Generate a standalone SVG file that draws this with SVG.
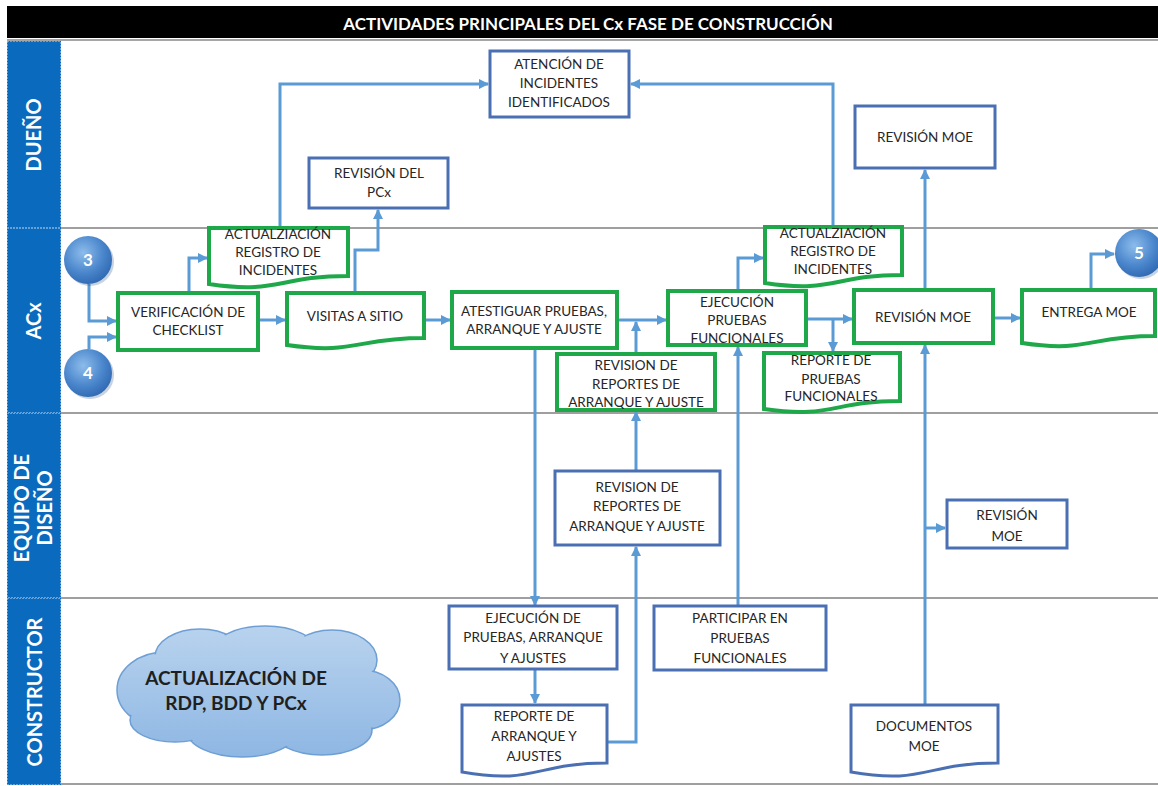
<svg xmlns="http://www.w3.org/2000/svg" width="1158" height="786" viewBox="0 0 1158 786">
<style>
.ln{stroke:#7F7F7F;stroke-width:1.5;fill:none}
.bx{fill:#fff;stroke:#4A70B3;stroke-width:3}
.gx{fill:#fff;stroke:#1FA84A;stroke-width:4}
.t{font-family:Lato,"Liberation Sans",sans-serif;font-size:13.5px;fill:#262626;text-anchor:middle}
.lbl{font-family:Lato,"Liberation Sans",sans-serif;font-weight:bold;font-size:20px;fill:#fff;text-anchor:middle}
.num{font-family:Lato,"Liberation Sans",sans-serif;font-weight:bold;font-size:17px;fill:#fff;text-anchor:middle}
.c{fill:none;stroke:#5B9BD5;stroke-width:3;marker-end:url(#ah)}
.cl{fill:url(#cg);stroke:#6E9FD4;stroke-width:1.5}
.cf{fill:url(#cg);stroke:none}
</style>
<defs>
<marker id="ah" markerUnits="userSpaceOnUse" markerWidth="10" markerHeight="10" refX="9" refY="5" orient="auto">
<path d="M0,0 L10,5 L0,10 z" fill="#5B9BD5"/>
</marker>
<radialGradient id="bg" cx="0.4" cy="0.35" r="0.7">
<stop offset="0" stop-color="#8DBCEB"/>
<stop offset="0.6" stop-color="#4A86CC"/>
<stop offset="1" stop-color="#2E67B0"/>
</radialGradient>
<linearGradient id="cg" gradientUnits="userSpaceOnUse" x1="0" y1="625" x2="0" y2="760">
<stop offset="0" stop-color="#B9D3EE"/>
<stop offset="1" stop-color="#8DB6E3"/>
</linearGradient>
</defs>
<rect width="1158" height="786" fill="#fff"/>
<!-- header -->
<g id="header">
<rect x="7" y="6" width="1151" height="32" fill="#000"/>
<text x="588" y="30" font-family="Lato,'Liberation Sans',sans-serif" font-weight="bold" font-size="17" fill="#fff" text-anchor="middle">ACTIVIDADES PRINCIPALES DEL Cx FASE DE CONSTRUCCIÓN</text>
<line x1="7" y1="40" x2="1158" y2="40" stroke="#A6A6A6" stroke-width="2"/>
</g>
<!-- lanes -->
<g id="lanes">
<rect x="7" y="41" width="54" height="744" fill="#0A6BBE"/>
<g stroke="#BFD9F2" stroke-width="1" stroke-dasharray="1,2" fill="none">
<rect x="7.5" y="41.5" width="53" height="186"/>
<rect x="7.5" y="228.5" width="53" height="184"/>
<rect x="7.5" y="413.5" width="53" height="184"/>
<rect x="7.5" y="598.5" width="53" height="186"/>
</g>
<line class="ln" x1="61" y1="228" x2="1158" y2="228"/>
<line class="ln" x1="61" y1="413" x2="1158" y2="413"/>
<line class="ln" x1="61" y1="598" x2="1158" y2="598"/>
<line class="ln" x1="61" y1="784" x2="1158" y2="784"/>
<text class="lbl" transform="translate(41,135) rotate(-90)">DUEÑO</text>
<text class="lbl" transform="translate(41,321) rotate(-90)">ACx</text>
<text class="lbl" transform="translate(29,508) rotate(-90)">EQUIPO DE</text>
<text class="lbl" transform="translate(52,508) rotate(-90)">DISEÑO</text>
<text class="lbl" transform="translate(42,692) rotate(-90)">CONSTRUCTOR</text>
</g>
<!-- connectors -->
<g id="connectors">
<path class="c" d="M280,228 V84 H488"/>
<path class="c" d="M833,227 V84 H631"/>
<path class="c" d="M355,292 V250 H378 V210"/>
<path class="c" d="M189,293 V258 H207"/>
<path class="c" d="M89,284 V321 H116"/>
<path class="c" d="M89,349 V337 H116"/>
<path class="c" d="M258,320 H285"/>
<path class="c" d="M424,320 H450"/>
<path class="c" d="M617,320 H666"/>
<path class="c" d="M636,354 V322"/>
<path class="c" d="M535,348 V605"/>
<path class="c" d="M636,471 V412"/>
<path class="c" d="M607,742 H636 V547"/>
<path class="c" d="M535,669 V703"/>
<path class="c" d="M738,606 V347"/>
<path class="c" d="M806,319 H852"/>
<path class="c" d="M833,319 V351"/>
<path class="c" d="M738,290 V258 H763"/>
<path class="c" d="M925,290 V170"/>
<path class="c" d="M925,705 V345"/>
<path class="c" d="M925,528 H945"/>
<path class="c" d="M993,318 H1020"/>
<path class="c" d="M1091,290 V254 H1114"/>
</g>
<!-- Dueño -->
<g id="atencion"><rect class="bx" x="490" y="51" width="139" height="66"/>
<text class="t" x="559" y="69">ATENCIÓN DE</text><text class="t" x="559" y="88">INCIDENTES</text><text class="t" x="559" y="107">IDENTIFICADOS</text></g>
<g id="revision-pcx"><rect class="bx" x="309" y="158" width="139" height="50"/>
<text class="t" x="379" y="178">REVISIÓN DEL</text><text class="t" x="379" y="197">PCx</text></g>
<g id="revision-moe-dueno"><rect class="bx" x="855" y="106" width="140" height="62"/>
<text class="t" x="925" y="142">REVISIÓN MOE</text></g>
<!-- ACx -->
<g id="circle3"><circle cx="90" cy="262" r="24" fill="#1F4E85" opacity="0.25"/><circle cx="88" cy="260" r="24" fill="url(#bg)"/><text class="num" x="88" y="266">3</text></g>
<g id="circle4"><circle cx="90" cy="375" r="24" fill="#1F4E85" opacity="0.25"/><circle cx="88" cy="373" r="24" fill="url(#bg)"/><text class="num" x="88" y="379">4</text></g>
<g id="circle5"><circle cx="1141" cy="255" r="24" fill="#1F4E85" opacity="0.25"/><circle cx="1139" cy="253" r="24" fill="url(#bg)"/><text class="num" x="1139" y="259">5</text></g>
<g id="act-reg-1"><path class="gx" d="M209,228 H348 V276 C278.5,276 278.5,294.4 209,284 Z"/>
<text class="t" x="278" y="239">ACTUALZIACIÓN</text><text class="t" x="278" y="257">REGISTRO DE</text><text class="t" x="278" y="275">INCIDENTES</text></g>
<g id="verificacion"><rect class="gx" x="118" y="293" width="140" height="57"/>
<text class="t" x="188" y="317">VERIFICACIÓN DE</text><text class="t" x="188" y="335">CHECKLIST</text></g>
<g id="visitas"><path class="gx" d="M287,293 H424 V338 C355.5,338 355.5,355 287,345 Z"/>
<text class="t" x="355" y="321">VISITAS A SITIO</text></g>
<g id="atestiguar"><rect class="gx" x="452" y="292" width="165" height="56"/>
<text class="t" x="534" y="316">ATESTIGUAR PRUEBAS,</text><text class="t" x="534" y="334">ARRANQUE Y AJUSTE</text></g>
<g id="revision-rep-acx"><rect class="gx" x="557" y="354" width="158" height="56"/>
<text class="t" x="636" y="370">REVISION DE</text><text class="t" x="636" y="389">REPORTES DE</text><text class="t" x="636" y="407">ARRANQUE Y AJUSTE</text></g>
<g id="ejecucion-pf"><rect class="gx" x="668" y="291" width="138" height="54"/>
<text class="t" x="737" y="307">EJECUCIÓN</text><text class="t" x="737" y="325">PRUEBAS</text><text class="t" x="737" y="343">FUNCIONALES</text></g>
<g id="act-reg-2"><path class="gx" d="M765,227 H902 V275 C833.5,275 833.5,293.4 765,283 Z"/>
<text class="t" x="833" y="238">ACTUALZIACIÓN</text><text class="t" x="833" y="256">REGISTRO DE</text><text class="t" x="833" y="274">INCIDENTES</text></g>
<g id="reporte-pf"><path class="gx" d="M764,353 H900 V401 C832,401 832,419 764,409 Z"/>
<text class="t" x="831" y="365">REPORTE DE</text><text class="t" x="831" y="384">PRUEBAS</text><text class="t" x="831" y="401">FUNCIONALES</text></g>
<g id="revision-moe-acx"><rect class="gx" x="854" y="290" width="139" height="53"/>
<text class="t" x="923" y="322">REVISIÓN MOE</text></g>
<g id="entrega-moe"><path class="gx" d="M1022,290 H1155 V336 C1088.5,336 1088.5,353 1022,343 Z"/>
<text class="t" x="1089" y="317">ENTREGA MOE</text></g>
<!-- Equipo de diseño -->
<g id="revision-rep-eq"><rect class="bx" x="555" y="471" width="165" height="74"/>
<text class="t" x="637" y="492">REVISION DE</text><text class="t" x="637" y="511">REPORTES DE</text><text class="t" x="637" y="531">ARRANQUE Y AJUSTE</text></g>
<g id="revision-moe-eq"><rect class="bx" x="947" y="500" width="120" height="48"/>
<text class="t" x="1007" y="520">REVISIÓN</text><text class="t" x="1007" y="541">MOE</text></g>
<!-- Constructor -->
<g id="cloud">
<g class="cl">
<ellipse cx="165" cy="690" rx="48" ry="38"/>
<ellipse cx="200" cy="657" rx="45" ry="28"/>
<ellipse cx="265" cy="651" rx="52" ry="25"/>
<ellipse cx="332" cy="660" rx="45" ry="30"/>
<ellipse cx="362" cy="700" rx="38" ry="30"/>
<ellipse cx="322" cy="730" rx="50" ry="25"/>
<ellipse cx="242" cy="731" rx="55" ry="26"/>
<ellipse cx="175" cy="720" rx="45" ry="22"/>
</g>
<g class="cf">
<ellipse cx="165" cy="690" rx="46.5" ry="36.5"/>
<ellipse cx="200" cy="657" rx="43.5" ry="26.5"/>
<ellipse cx="265" cy="651" rx="50.5" ry="23.5"/>
<ellipse cx="332" cy="660" rx="43.5" ry="28.5"/>
<ellipse cx="362" cy="700" rx="36.5" ry="28.5"/>
<ellipse cx="322" cy="730" rx="48.5" ry="23.5"/>
<ellipse cx="242" cy="731" rx="53.5" ry="24.5"/>
<ellipse cx="175" cy="720" rx="43.5" ry="20.5"/>
<ellipse cx="262" cy="692" rx="110" ry="45"/>
</g>
<text x="236" y="685" font-family="Lato,'Liberation Sans',sans-serif" font-weight="bold" font-size="19" fill="#1F1F1F" text-anchor="middle">ACTUALIZACIÓN DE</text>
<text x="236" y="710" font-family="Lato,'Liberation Sans',sans-serif" font-weight="bold" font-size="19" fill="#1F1F1F" text-anchor="middle">RDP, BDD Y PCx</text>
</g>
<g id="ejecucion-pruebas"><rect class="bx" x="449" y="606" width="168" height="63"/>
<text class="t" x="533" y="623">EJECUCIÓN DE</text><text class="t" x="533" y="642">PRUEBAS, ARRANQUE</text><text class="t" x="533" y="663">Y AJUSTES</text></g>
<g id="participar"><rect class="bx" x="654" y="606" width="172" height="64"/>
<text class="t" x="740" y="623">PARTICIPAR EN</text><text class="t" x="740" y="643">PRUEBAS</text><text class="t" x="740" y="663">FUNCIONALES</text></g>
<g id="reporte-arranque"><path class="bx" d="M462,705 H607 V763 C534.5,763 534.5,785 462,772 Z"/>
<text class="t" x="534" y="721">REPORTE DE</text><text class="t" x="534" y="741">ARRANQUE Y</text><text class="t" x="534" y="761">AJUSTES</text></g>
<g id="documentos-moe"><path class="bx" d="M851,705 H998 V763 C924.5,763 924.5,785 851,772 Z"/>
<text class="t" x="924" y="731">DOCUMENTOS</text><text class="t" x="924" y="751">MOE</text></g>
</svg>
